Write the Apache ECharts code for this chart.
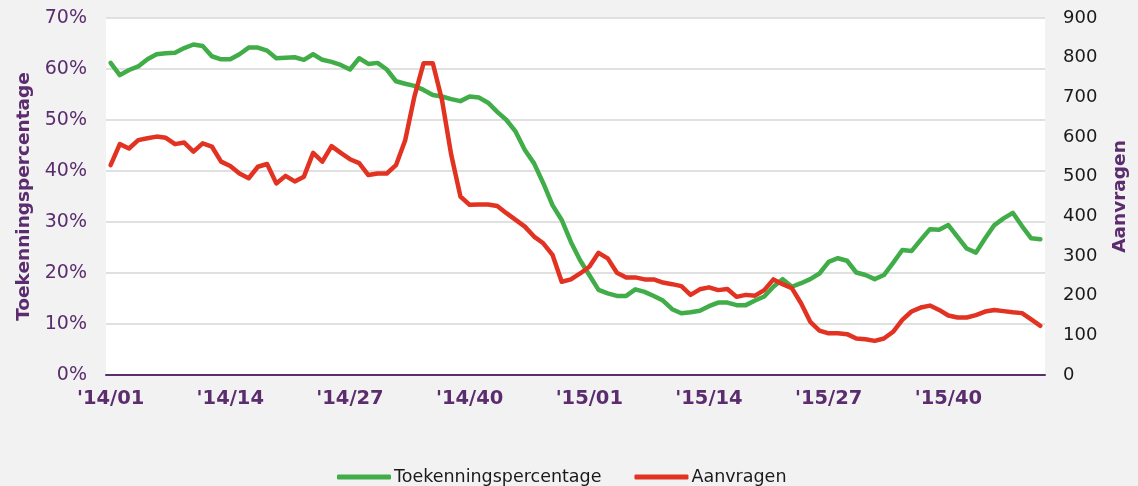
<!DOCTYPE html>
<html>
<head>
<meta charset="utf-8">
<title>Toekenningspercentage en aanvragen</title>
<script src="https://cdn.jsdelivr.net/npm/echarts@6/dist/echarts.min.js"></script>
<style>
  html, body { margin: 0; padding: 0; background: #f2f2f2; }
  #myChart { width: 1138px; height: 486px; }
</style>
</head>
<body>
<div id="myChart"></div>
<script>
  // weken: 2014 week 1-52, 2015 week 1-50
  let jaren = ['14', '15'];
  let wekenPerJaar = [52, 50];
  let categories = [];
  for (let j = 0; j < jaren.length; j++) {
    for (let w = 1; w <= wekenPerJaar[j]; w++) {
      categories.push("'" + jaren[j] + '/' + (w < 10 ? '0' + w : w));
    }
  }

  // toekenningspercentage (%)
  let toekenning = [
    61.2, 58.8, 59.8, 60.5, 61.9, 62.9, 63.1, 63.2, 64.1, 64.8, 64.5, 62.5, 61.9, 61.9, 62.9, 64.2, 64.2, 63.6, 62.1, 62.2, 62.3,
    61.8, 62.9, 61.8, 61.4, 60.8, 59.9, 62.1, 61.0, 61.2, 59.9, 57.6, 57.1, 56.7, 55.9, 54.9, 54.6, 54.1, 53.7, 54.6, 54.4,
    53.4, 51.6, 50.0, 47.7, 44.1, 41.5, 37.6, 33.3, 30.4, 26.1, 22.5, 19.6, 16.7, 16.0, 15.5, 15.5, 16.8, 16.3, 15.5, 14.6, 12.9,
    12.1, 12.3, 12.6, 13.5, 14.2, 14.2, 13.7, 13.7, 14.6, 15.4, 17.3, 18.8, 17.3, 18.0, 18.8, 19.9, 22.2, 22.9, 22.4, 20.1,
    19.6, 18.8, 19.6, 22.0, 24.5, 24.3, 26.5, 28.6, 28.5, 29.4, 27.1, 24.8, 24.0, 26.8, 29.4, 30.7, 31.8, 29.2, 26.8, 26.6
  ];

  // aantal aanvragen
  let aanvragen = [
    529, 582, 571, 592, 597, 601, 598, 582, 586, 563, 584, 576, 538, 527, 508, 496, 525, 532, 483, 502, 488,
    500, 560, 538, 577, 560, 544, 534, 504, 508, 508, 529, 592, 702, 786, 786, 693, 555, 450, 429, 430,
    430, 426, 408, 391, 374, 349, 332, 303, 235, 241, 256, 273, 308, 294, 258, 246, 246, 241, 241, 233, 229,
    224, 202, 216, 221, 214, 217, 197, 202, 200, 214, 241, 229, 219, 181, 134, 112, 105, 105, 103, 92,
    90, 86, 92, 109, 139, 160, 170, 175, 164, 150, 145, 145, 151, 160, 164, 161, 158, 156, 140, 124
  ];

  let paars = '#5b2d6e';
  let font = 'DejaVu Sans';

  let myChart = echarts.init(document.getElementById('myChart'));
  let option = {
    backgroundColor: '#f2f2f2',
    animation: false,
    textStyle: { fontFamily: font },
    grid: {
      left: 106,
      right: 88,
      top: 18,
      bottom: 111,
      show: true,
      backgroundColor: '#ffffff',
      borderWidth: 0
    },
    legend: {
      bottom: -5,
      left: 332,
      itemWidth: 54,
      itemHeight: 5,
      itemGap: 33,
      icon: 'roundRect',
      textStyle: { fontFamily: font, fontSize: 17.5, color: '#1a1a1a', padding: [0, 0, 0, -2] },
      data: ['Toekenningspercentage', 'Aanvragen']
    },
    xAxis: {
      type: 'category',
      data: categories,
      boundaryGap: true,
      axisLine: { lineStyle: { color: paars, width: 2 } },
      axisTick: { show: false },
      axisLabel: {
        interval: 12,
        margin: 14,
        fontFamily: font,
        fontSize: 19.5,
        fontWeight: 'bold',
        color: paars
      }
    },
    yAxis: [
      {
        type: 'value',
        min: 0,
        max: 70,
        interval: 10,
        name: 'Toekenningspercentage',
        nameLocation: 'middle',
        nameGap: 68,
        nameTextStyle: { fontFamily: font, fontSize: 18.5, fontWeight: 'bold', color: paars },
        axisLine: { show: false },
        axisTick: { show: false },
        axisLabel: { formatter: '{value}%', margin: 19, fontFamily: font, fontSize: 19, color: paars },
        splitLine: { lineStyle: { color: '#e0e0e0', width: 2 } }
      },
      {
        type: 'value',
        min: 0,
        max: 900,
        interval: 100,
        name: 'Aanvragen',
        nameLocation: 'middle',
        nameGap: 66,
        nameTextStyle: { fontFamily: font, fontSize: 18.5, fontWeight: 'bold', color: paars },
        axisLine: { show: false },
        axisTick: { show: false },
        axisLabel: { margin: 18, fontFamily: font, fontSize: 18, color: '#1a1a1a' },
        splitLine: { show: false }
      }
    ],
    series: [
      {
        name: 'Toekenningspercentage',
        type: 'line',
        yAxisIndex: 0,
        data: toekenning,
        symbol: 'none',
        color: '#41ad49',
        lineStyle: { width: 4.5, color: '#41ad49', join: 'round', cap: 'round' }
      },
      {
        name: 'Aanvragen',
        type: 'line',
        yAxisIndex: 1,
        data: aanvragen,
        symbol: 'none',
        color: '#e23322',
        lineStyle: { width: 4.5, color: '#e23322', join: 'round', cap: 'round' }
      }
    ]
  };
  myChart.setOption(option);
</script>
</body>
</html>
